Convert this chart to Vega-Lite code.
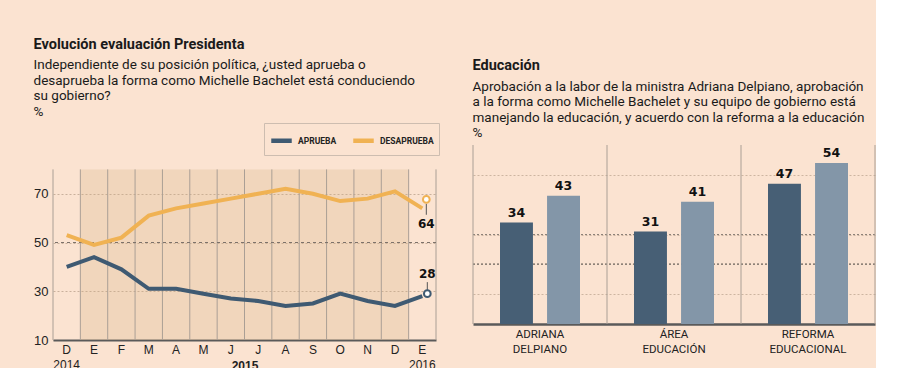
{
"$schema":"https://vega.github.io/schema/vega-lite/v6.json",
"background":"#fbe3d1",
"padding":{"left":33,"top":36,"right":0,"bottom":0},
"config":{"view":{"stroke":null},"font":"Roboto","axis":{"labelOverlap":false}},
"resolve":{"scale":{"color":"independent"}},
"spacing":32,
"hconcat":[
{
"width":383,"height":195,
"title":{"text":"Evolución evaluación Presidenta","subtitle":["\u00a0\u00a0\u00a0\u00a0\u00a0\u00a0\u00a0\u00a0Independiente de su posición política, ¿usted aprueba o","\u00a0\u00a0\u00a0\u00a0\u00a0\u00a0\u00a0\u00a0desaprueba la forma como Michelle Bachelet está conduciendo","\u00a0\u00a0\u00a0\u00a0\u00a0\u00a0\u00a0\u00a0su gobierno?","\u00a0%"],"anchor":"start","font":"Roboto","fontSize":14.5,"fontWeight":"bold","color":"#1a1a1a","subtitleFont":"Roboto","subtitleFontSize":13.5,"subtitleColor":"#1a1a1a","subtitleLineHeight":15.5,"subtitlePadding":6,"offset":3.5},
"data":{"values":[
{"m":"2014-12","s":"APRUEBA","v":40},{"m":"2015-01","s":"APRUEBA","v":44},{"m":"2015-02","s":"APRUEBA","v":39},{"m":"2015-03","s":"APRUEBA","v":31},{"m":"2015-04","s":"APRUEBA","v":31},{"m":"2015-05","s":"APRUEBA","v":29},{"m":"2015-06","s":"APRUEBA","v":27},{"m":"2015-07","s":"APRUEBA","v":26},{"m":"2015-08","s":"APRUEBA","v":24},{"m":"2015-09","s":"APRUEBA","v":25},{"m":"2015-10","s":"APRUEBA","v":29},{"m":"2015-11","s":"APRUEBA","v":26},{"m":"2015-12","s":"APRUEBA","v":24},{"m":"2016-01","s":"APRUEBA","v":28},
{"m":"2014-12","s":"DESAPRUEBA","v":53},{"m":"2015-01","s":"DESAPRUEBA","v":49},{"m":"2015-02","s":"DESAPRUEBA","v":52},{"m":"2015-03","s":"DESAPRUEBA","v":61},{"m":"2015-04","s":"DESAPRUEBA","v":64},{"m":"2015-05","s":"DESAPRUEBA","v":66},{"m":"2015-06","s":"DESAPRUEBA","v":68},{"m":"2015-07","s":"DESAPRUEBA","v":70},{"m":"2015-08","s":"DESAPRUEBA","v":72},{"m":"2015-09","s":"DESAPRUEBA","v":70},{"m":"2015-10","s":"DESAPRUEBA","v":67},{"m":"2015-11","s":"DESAPRUEBA","v":68},{"m":"2015-12","s":"DESAPRUEBA","v":71},{"m":"2016-01","s":"DESAPRUEBA","v":64}
]},
"layer":[
{"transform":[{"filter":"datum.s=='APRUEBA' && slice(datum.m,0,4)=='2015'"}],
 "mark":{"type":"bar","color":"#d3af81","opacity":0.25},
 "encoding":{"x":{"field":"m","type":"ordinal","scale":{"domain":["2014-12","2015-01","2015-02","2015-03","2015-04","2015-05","2015-06","2015-07","2015-08","2015-09","2015-10","2015-11","2015-12","2016-01"],"paddingInner":0,"paddingOuter":0},
   "axis":{"title":"2015","titleFont":"Liberation Sans","titleFontSize":12,"titleFontWeight":"bold","titleColor":"#222","titlePadding":-10,"grid":false,"domain":true,"domainColor":"#5a5a5a","domainWidth":2,"ticks":false,"labelFont":"Liberation Sans","labelFontSize":12,"labelLineHeight":15,"labelColor":"#222","labelPadding":4,"labelAngle":0,
   "labelExpr":"datum.value=='2014-12' ? ['D','2014'] : datum.value=='2016-01' ? ['E','2016'] : substring('EFMAMJJASOND', toNumber(slice(datum.value,5))-1, toNumber(slice(datum.value,5)))"}},
  "y":{"datum":80,"type":"quantitative","scale":{"domain":[10,85],"zero":false},
   "axis":{"title":null,"values":[10,20,30,40,50,60,70,80],"labelOverlap":false,"labelFont":"Liberation Sans","labelFontSize":13,"labelColor":"#222","labelPadding":5,"ticks":false,"domain":false,"grid":true,"gridColor":"#c9b09c","gridDash":[2,2],"gridWidth":1}},
  "y2":{"datum":10}}},
{"transform":[{"filter":"datum.s=='APRUEBA'"}],
 "mark":{"type":"rule","color":"#aa9f95","strokeWidth":1},
 "encoding":{"x":{"field":"m","type":"ordinal","bandPosition":0},"y":{"datum":80,"type":"quantitative"},"y2":{"datum":10}}},
{"transform":[{"filter":"datum.s=='APRUEBA' && datum.m=='2016-01'"}],
 "mark":{"type":"rule","color":"#aa9f95","strokeWidth":1},
 "encoding":{"x":{"field":"m","type":"ordinal","bandPosition":1},"y":{"datum":80,"type":"quantitative"},"y2":{"datum":10}}},
{"mark":{"type":"rule","color":"#7d726a","strokeDash":[3,3],"strokeWidth":1},
 "encoding":{"y":{"datum":50,"type":"quantitative"}}},
{"mark":{"type":"line","strokeWidth":4},
 "encoding":{"x":{"field":"m","type":"ordinal"},
  "y":{"field":"v","type":"quantitative"},
  "color":{"field":"s","type":"nominal","scale":{"domain":["APRUEBA","DESAPRUEBA"],"range":["#3f5a72","#f0b253"]},
   "legend":{"orient":"none","legendX":211,"legendY":-22,"direction":"horizontal","title":null,"symbolType":"stroke","symbolStrokeWidth":4.5,"symbolSize":420,"labelFont":"Roboto","labelFontWeight":"bold","labelFontSize":8.5,"labelColor":"#222","strokeColor":"#cdbdb0","padding":5,"columnPadding":7,"labelOffset":4}}}},
{"transform":[{"filter":"datum.m=='2016-01' && datum.s=='DESAPRUEBA'"}],
 "mark":{"type":"rule","color":"#555","strokeWidth":1,"xOffset":4,"yOffset":-4.6,"y2Offset":6.4},
 "encoding":{"x":{"field":"m","type":"ordinal"},"y":{"field":"v","type":"quantitative"},"y2":{"field":"v"}}},
{"transform":[{"filter":"datum.m=='2016-01' && datum.s=='DESAPRUEBA'"}],
 "mark":{"type":"point","shape":"circle","filled":true,"fill":"#ffffff","stroke":"#f0b253","strokeWidth":2,"size":45,"opacity":1,"xOffset":4,"yOffset":-9},
 "encoding":{"x":{"field":"m","type":"ordinal"},"y":{"field":"v","type":"quantitative"}}},
{"transform":[{"filter":"datum.m=='2016-01' && datum.s=='DESAPRUEBA'"}],
 "mark":{"type":"text","font":"DejaVu Sans","fontWeight":"bold","fontSize":12,"color":"#111","dx":4,"dy":16,"baseline":"middle"},
 "encoding":{"x":{"field":"m","type":"ordinal"},"y":{"field":"v","type":"quantitative"},"text":{"field":"v","type":"quantitative"}}},
{"transform":[{"filter":"datum.m=='2016-01' && datum.s=='APRUEBA'"}],
 "mark":{"type":"rule","color":"#555","strokeWidth":1,"xOffset":5,"yOffset":-14,"y2Offset":-5.5},
 "encoding":{"x":{"field":"m","type":"ordinal"},"y":{"field":"v","type":"quantitative"},"y2":{"field":"v"}}},
{"transform":[{"filter":"datum.m=='2016-01' && datum.s=='APRUEBA'"}],
 "mark":{"type":"point","shape":"circle","filled":true,"fill":"#ffffff","stroke":"#3f5a72","strokeWidth":2,"size":45,"opacity":1,"xOffset":5,"yOffset":-2.5},
 "encoding":{"x":{"field":"m","type":"ordinal"},"y":{"field":"v","type":"quantitative"}}},
{"transform":[{"filter":"datum.m=='2016-01' && datum.s=='APRUEBA'"}],
 "mark":{"type":"text","font":"DejaVu Sans","fontWeight":"bold","fontSize":12,"color":"#111","dx":5,"dy":-22,"baseline":"middle"},
 "encoding":{"x":{"field":"m","type":"ordinal"},"y":{"field":"v","type":"quantitative"},"text":{"field":"v","type":"quantitative"}}}
]
},
{
"width":402,"height":179,
"title":{"text":"Educación","subtitle":["\u00a0\u00a0\u00a0\u00a0\u00a0\u00a0\u00a0Aprobación a la labor de la ministra Adriana Delpiano, aprobación","\u00a0\u00a0\u00a0\u00a0\u00a0a la forma como Michelle Bachelet y su equipo de gobierno está","\u00a0\u00a0\u00a0\u00a0\u00a0manejando la educación, y acuerdo con la reforma a la educación","%"],"anchor":"start","font":"Roboto","fontSize":14.5,"fontWeight":"bold","color":"#1a1a1a","subtitleFont":"Roboto","subtitleFontSize":13.5,"subtitleColor":"#1a1a1a","subtitleLineHeight":15.5,"subtitlePadding":6,"offset":4},
"data":{"values":[
{"c":"ADRIANA DELPIANO","s":"1","v":34},{"c":"ADRIANA DELPIANO","s":"2","v":43},
{"c":"ÁREA EDUCACIÓN","s":"1","v":31},{"c":"ÁREA EDUCACIÓN","s":"2","v":41},
{"c":"REFORMA EDUCACIONAL","s":"1","v":47},{"c":"REFORMA EDUCACIONAL","s":"2","v":54}
]},
"layer":[
{"mark":{"type":"rule","color":"#8d8279","strokeDash":[2,2],"strokeWidth":1},
 "encoding":{"y":{"datum":30,"type":"quantitative","scale":{"domain":[0,60]}}}},
{"mark":{"type":"rule","color":"#8d8279","strokeDash":[2,2],"strokeWidth":1},
 "encoding":{"y":{"datum":20,"type":"quantitative"}}},
{"mark":{"type":"bar"},
 "encoding":{
  "x":{"field":"c","type":"nominal","sort":null,"scale":{"type":"band","paddingInner":0,"paddingOuter":0},
   "axis":{"title":"FUENTE:  GFK 2016/ ENERO 2016","titleFont":"Roboto","titleFontSize":8,"titleFontWeight":"bold","titleColor":"#222","titleAnchor":"end","titlePadding":16,"labelExpr":"split(datum.label,' ')","labelFont":"Roboto","labelFontSize":11.5,"labelLineHeight":15,"labelColor":"#222","labelPadding":4,"labelAngle":0,"ticks":false,"grid":false,"domainColor":"#5a5a5a","domainWidth":2.5}},
  "xOffset":{"field":"s","type":"nominal","scale":{"paddingInner":0.3,"paddingOuter":0.574}},
  "y":{"field":"v","type":"quantitative","scale":{"domain":[0,60]},
   "axis":{"title":null,"labels":false,"ticks":false,"domain":false,"grid":true,"values":[10,20,30,40,50,60],"gridColor":"#cdb5a1","gridDash":[2,2],"gridWidth":1}},
  "color":{"field":"s","type":"nominal","scale":{"domain":["1","2"],"range":["#475f75","#8396a8"]},"legend":null}}},
{"transform":[{"filter":"datum.s=='1'"}],
 "mark":{"type":"rule","color":"#aa9f95","strokeWidth":1},
 "encoding":{"x":{"field":"c","type":"nominal","sort":null,"bandPosition":0}}},
{"transform":[{"filter":"datum.s=='1' && datum.c=='REFORMA EDUCACIONAL'"}],
 "mark":{"type":"rule","color":"#aa9f95","strokeWidth":1},
 "encoding":{"x":{"field":"c","type":"nominal","sort":null,"bandPosition":1}}},
{"mark":{"type":"text","font":"DejaVu Sans","fontWeight":"bold","fontSize":12.5,"color":"#111","dy":-10,"baseline":"middle"},
 "encoding":{
  "x":{"field":"c","type":"nominal","sort":null},
  "xOffset":{"field":"s","type":"nominal"},
  "y":{"field":"v","type":"quantitative"},
  "text":{"field":"v","type":"quantitative"}}}
]
}
]
}
